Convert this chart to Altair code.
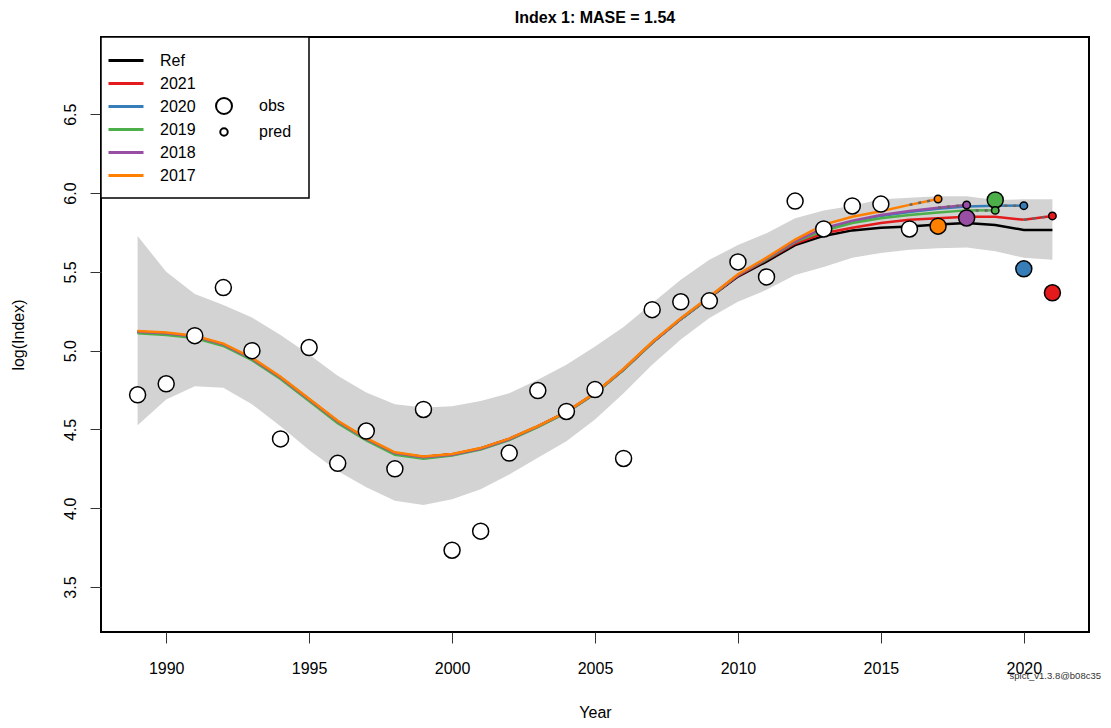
import altair as alt
import pandas as pd

FONT = "Liberation Sans"

years = list(range(1989, 2022))
obs = [4.72, 4.79, 5.095, 5.40, 5.00, 4.44, 5.02, 4.285, 4.49, 4.25, 4.627,
       3.734, 3.855, 4.35, 4.747, 4.614, 4.753, 4.316, 5.26, 5.31, 5.316,
       5.563, 5.468, 5.949, 5.772, 5.918, 5.93, 5.772, 5.79, 5.842, 5.956,
       5.519, 5.367]
ref = [5.12, 5.11, 5.09, 5.04, 4.95, 4.83, 4.69, 4.55, 4.44, 4.35, 4.325,
       4.342, 4.38, 4.44, 4.52, 4.61, 4.73, 4.88, 5.05, 5.20, 5.335,
       5.47, 5.565, 5.67, 5.728, 5.763, 5.78, 5.787, 5.80, 5.81, 5.797,
       5.766, 5.766]
upper = [5.728, 5.50, 5.36, 5.29, 5.21, 5.10, 4.975, 4.84, 4.734, 4.66, 4.64,
         4.648, 4.68, 4.73, 4.816, 4.91, 5.027, 5.15, 5.30, 5.45, 5.576,
         5.67, 5.745, 5.84, 5.89, 5.92, 5.96, 5.97, 5.98, 5.98, 5.956,
         5.96, 5.96]
lower = [4.527, 4.69, 4.774, 4.765, 4.66, 4.52, 4.37, 4.237, 4.133, 4.047, 4.02,
         4.057, 4.12, 4.215, 4.32, 4.426, 4.563, 4.73, 4.91, 5.07, 5.207,
         5.31, 5.386, 5.48, 5.53, 5.59, 5.62, 5.64, 5.65, 5.655, 5.63,
         5.59, 5.576]

# retrospective (peel) runs: estimates up to the year before the peel year
r2021 = [5.12, 5.11, 5.09, 5.04, 4.95, 4.83, 4.69, 4.55, 4.44, 4.35, 4.325,
         4.342, 4.38, 4.44, 4.52, 4.61, 4.73, 4.88, 5.05, 5.20, 5.335,
         5.475, 5.575, 5.68, 5.745, 5.78, 5.81, 5.83, 5.84, 5.85, 5.85, 5.83]
r2020 = [5.115, 5.105, 5.085, 5.035, 4.945, 4.825, 4.685, 4.545, 4.435, 4.345, 4.32,
         4.338, 4.376, 4.436, 4.518, 4.608, 4.728, 4.88, 5.05, 5.20, 5.338,
         5.48, 5.58, 5.69, 5.77, 5.82, 5.855, 5.88, 5.90, 5.915, 5.92]
r2019 = [5.11, 5.10, 5.08, 5.03, 4.94, 4.82, 4.68, 4.54, 4.43, 4.34, 4.315,
         4.335, 4.372, 4.432, 4.515, 4.606, 4.726, 4.878, 5.05, 5.20, 5.338,
         5.48, 5.58, 5.69, 5.76, 5.81, 5.84, 5.86, 5.877, 5.89]
r2018 = [5.12, 5.11, 5.09, 5.04, 4.95, 4.83, 4.69, 4.55, 4.44, 4.35, 4.324,
         4.34, 4.378, 4.438, 4.52, 4.61, 4.73, 4.882, 5.052, 5.202, 5.34,
         5.48, 5.585, 5.695, 5.777, 5.825, 5.86, 5.886, 5.907]
r2017 = [5.125, 5.115, 5.095, 5.045, 4.955, 4.835, 4.695, 4.555, 4.445, 4.355, 4.328,
         4.345, 4.382, 4.442, 4.522, 4.612, 4.732, 4.885, 5.055, 5.205, 5.342,
         5.485, 5.59, 5.705, 5.80, 5.85, 5.885, 5.925]

peels = ["2021", "2020", "2019", "2018", "2017"]
peel_runs = [r2021, r2020, r2019, r2018, r2017]
pred_years = [2021, 2020, 2019, 2018, 2017]
pred_vals = [5.855, 5.92, 5.89, 5.924, 5.962]

series_order = ["Ref", "2021", "2020", "2019", "2018", "2017"]
series_colors = ["#000000", "#E41A1C", "#377EB8", "#4DAF4A", "#984EA3", "#FF7F00"]
point_kinds = ["obs", "pred"]

# ---------------- tables ----------------
band_df = pd.DataFrame({"year": years, "lower": lower, "upper": upper})

line_rows = [{"year": y, "value": v, "series": "Ref"} for y, v in zip(years, ref)]
for name, run in zip(peels, peel_runs):
    for y, v in zip(years, run):
        line_rows.append({"year": y, "value": v, "series": name})
line_df = pd.DataFrame(line_rows)

fc_rows = []
for name, run, py, pv in zip(peels, peel_runs, pred_years, pred_vals):
    fc_rows.append({"year": years[len(run) - 1], "value": run[-1], "series": name})
    fc_rows.append({"year": py, "value": pv, "series": name})
fc_df = pd.DataFrame(fc_rows)

obs_white = pd.DataFrame({"year": years[:28], "value": obs[:28]})
obs_col = pd.DataFrame({"year": pred_years, "value": [obs[years.index(y)] for y in pred_years],
                        "series": peels})
pred_df = pd.DataFrame({"year": pred_years, "value": pred_vals, "series": peels})
legend_pts = pd.DataFrame({"year": pd.Series([], dtype=float),
                           "value": pd.Series([], dtype=float),
                           "kind": pd.Series([], dtype=str)})

# ---------------- encodings ----------------
xscale = alt.Scale(domain=[1987.72, 2022.28], nice=False, zero=False)
yscale = alt.Scale(domain=[3.215, 6.99], nice=False, zero=False)

x_enc = alt.X("year:Q", scale=xscale, title="Year",
              axis=alt.Axis(values=[1990, 1995, 2000, 2005, 2010, 2015, 2020], format="d",
                            tickSize=11, labelPadding=17, titlePadding=28))
y_enc = alt.Y("lower:Q", scale=yscale, title="log(Index)",
              axis=alt.Axis(values=[3.5, 4.0, 4.5, 5.0, 5.5, 6.0, 6.5], format=".1f",
                            labelAngle=270, tickSize=11, labelPadding=12, titlePadding=36))

color_enc = alt.Color("series:N",
                      scale=alt.Scale(domain=series_order, range=series_colors),
                      legend=alt.Legend(title=None, orient="none", legendX=6, legendY=15,
                                        symbolType="M-1,0H4", symbolSize=196,
                                        symbolStrokeWidth=3, labelFontSize=16,
                                        labelOffset=36, rowPadding=6, padding=0,
                                        labelFont=FONT, labelColor="black"))
fill_enc = alt.Fill("series:N", scale=alt.Scale(domain=peels, range=series_colors[1:]),
                    legend=None)
size_enc = alt.Size("kind:N", scale=alt.Scale(domain=point_kinds, range=[256, 56]),
                    legend=alt.Legend(title=None, orient="none", legendX=114, legendY=60,
                                      symbolType="circle", symbolFillColor="white",
                                      symbolStrokeColor="black", symbolStrokeWidth=2,
                                      symbolOpacity=1, labelFontSize=16, labelOffset=26,
                                      rowPadding=6, padding=0, labelFont=FONT,
                                      labelColor="black"))

band = alt.Chart(band_df).mark_area(color="#D3D3D3", opacity=1).encode(
    x=x_enc, y=y_enc, y2="upper:Q")

layers = [band]
for name in series_order:
    layers.append(
        alt.Chart(line_df[line_df.series == name]).mark_line(strokeWidth=2.5).encode(
            x="year:Q", y="value:Q", color=color_enc))

for name in peels:
    sub = fc_df[fc_df.series == name]
    layers.append(alt.Chart(sub).mark_line(strokeWidth=2.5).encode(
        x="year:Q", y="value:Q", color=color_enc))
    layers.append(alt.Chart(sub).mark_line(strokeWidth=2.5, color="#666666",
                                           strokeDash=[3, 6]).encode(
        x="year:Q", y="value:Q"))

# empty layer that only carries the obs / pred legend
layers.append(alt.Chart(legend_pts).mark_point(shape="circle", filled=False, color="black",
                                               strokeWidth=2, opacity=1).encode(
    x="year:Q", y="value:Q", size=size_enc))

layers.append(alt.Chart(obs_white).mark_point(shape="circle", filled=True, fill="white",
                                              stroke="black", strokeWidth=1.5, opacity=1,
                                              size=256).encode(
    x="year:Q", y="value:Q"))
layers.append(alt.Chart(obs_col).mark_point(shape="circle", filled=True, stroke="black",
                                            strokeWidth=1.5, opacity=1, size=256).encode(
    x="year:Q", y="value:Q", fill=fill_enc))
layers.append(alt.Chart(pred_df).mark_point(shape="circle", filled=True, stroke="black",
                                            strokeWidth=1.5, opacity=1, size=56).encode(
    x="year:Q", y="value:Q", fill=fill_enc))

legend_box = alt.Chart(pd.DataFrame({"k": [0]})).mark_rect(
    fill="white", stroke="black", strokeWidth=1.5).encode(
    x=alt.value(0), x2=alt.value(208), y=alt.value(0), y2=alt.value(161))
layers.append(legend_box)

footnote = alt.Chart(pd.DataFrame({"k": [0]})).mark_text(
    text="spict_v1.3.8@b08c35", fontSize=9.5, align="right", baseline="middle",
    color="#333333", font=FONT).encode(x=alt.value(1000), y=alt.value(639))
layers.append(footnote)

chart = alt.layer(*layers).properties(
    width=988, height=595,
    autosize=alt.AutoSizeParams(type="none"),
    padding={"left": 93, "top": 29, "right": 14, "bottom": 88},
    title=alt.TitleParams("Index 1: MASE = 1.54", fontSize=16, fontWeight="bold",
                          font=FONT, anchor="middle", offset=10, color="black"),
).resolve_scale(fill="independent").configure_view(
    stroke="black", strokeWidth=2
).configure_axis(
    grid=False, domain=False, labelFont=FONT, titleFont=FONT, labelFontSize=16,
    titleFontSize=16, titleFontWeight="normal", tickColor="#333333",
    labelColor="black", titleColor="black", tickWidth=1
)

chart.save("out.html", embed_options={"renderer": "svg", "actions": False})
